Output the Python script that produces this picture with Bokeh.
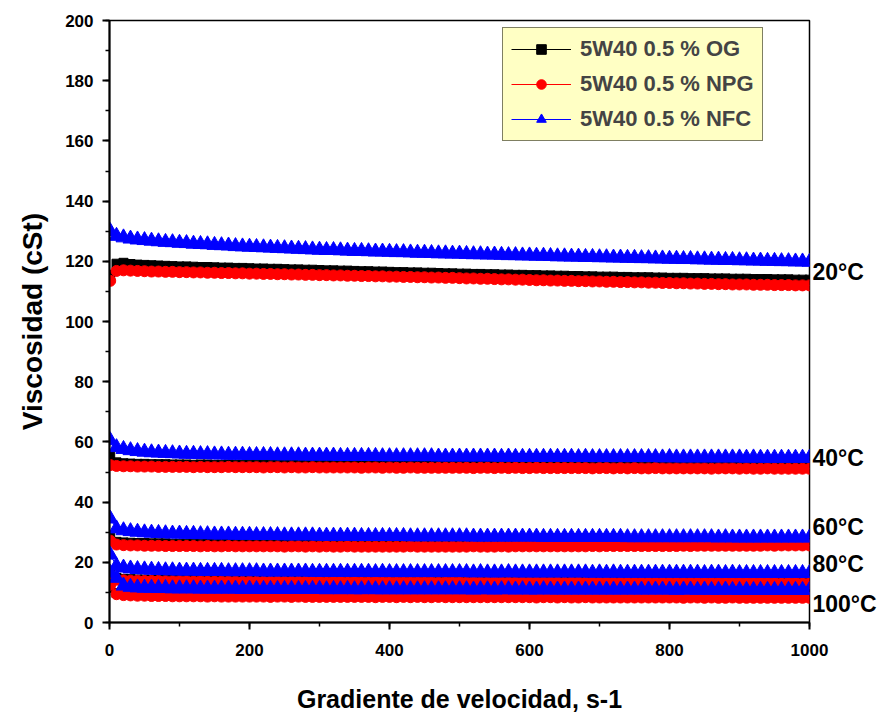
from bokeh.plotting import figure
from bokeh.models import (SingleIntervalTicker, FixedTicker, LinearAxis, Legend,
                          LegendItem, Range1d)
from bokeh.embed import file_html
from bokeh.resources import INLINE

# ---------------- data ----------------
shear_rate = [1, 10, 20, 30, 40, 50, 60, 70, 80, 90,
              100, 110, 120, 130, 140, 150, 160, 170, 180, 190,
              200, 210, 220, 230, 240, 250, 260, 270, 280, 290,
              300, 310, 320, 330, 340, 350, 360, 370, 380, 390,
              400, 410, 420, 430, 440, 450, 460, 470, 480, 490,
              500, 510, 520, 530, 540, 550, 560, 570, 580, 590,
              600, 610, 620, 630, 640, 650, 660, 670, 680, 690,
              700, 710, 720, 730, 740, 750, 760, 770, 780, 790,
              800, 810, 820, 830, 840, 850, 860, 870, 880, 890,
              900, 910, 920, 930, 940, 950, 960, 970, 980, 990, 1000]

series_names = ["5W40 0.5 % OG", "5W40 0.5 % NPG", "5W40 0.5 % NFC"]
temp_labels = ["20\u00b0C", "40\u00b0C", "60\u00b0C", "80\u00b0C", "100\u00b0C"]
temp_label_y = [116.3, 54.5, 31.6, 19.3, 6.3]

og_20 = [115.5, 119.2, 119.5, 119.1, 118.9, 118.8, 118.7, 118.6, 118.5, 118.4,
         118.3, 118.3, 118.2, 118.1, 118.1, 118.0, 117.9, 117.9, 117.8, 117.8,
         117.7, 117.6, 117.6, 117.5, 117.5, 117.4, 117.3, 117.3, 117.2, 117.2,
         117.1, 117.0, 117.0, 116.9, 116.9, 116.8, 116.7, 116.7, 116.6, 116.6,
         116.5, 116.4, 116.4, 116.3, 116.3, 116.2, 116.2, 116.1, 116.0, 116.0,
         115.9, 115.9, 115.8, 115.8, 115.7, 115.7, 115.6, 115.6, 115.5, 115.5,
         115.4, 115.4, 115.3, 115.3, 115.2, 115.2, 115.1, 115.1, 115.0, 115.0,
         114.9, 114.9, 114.9, 114.8, 114.8, 114.7, 114.7, 114.7, 114.6, 114.6,
         114.5, 114.5, 114.5, 114.4, 114.4, 114.4, 114.3, 114.3, 114.3, 114.2,
         114.2, 114.2, 114.1, 114.1, 114.1, 114.0, 114.0, 114.0, 113.9, 113.9, 113.9]
npg_20 = [113.5, 116.8, 117.0, 116.9, 116.8, 116.7, 116.6, 116.6, 116.5, 116.5,
          116.4, 116.4, 116.3, 116.3, 116.2, 116.2, 116.1, 116.1, 116.0, 116.0,
          115.9, 115.9, 115.8, 115.8, 115.7, 115.7, 115.6, 115.6, 115.5, 115.5,
          115.4, 115.4, 115.3, 115.3, 115.2, 115.2, 115.1, 115.1, 115.0, 115.0,
          114.9, 114.9, 114.8, 114.8, 114.7, 114.7, 114.6, 114.6, 114.5, 114.5,
          114.4, 114.3, 114.3, 114.2, 114.2, 114.1, 114.0, 114.0, 113.9, 113.9,
          113.8, 113.7, 113.7, 113.6, 113.6, 113.5, 113.5, 113.4, 113.4, 113.3,
          113.3, 113.2, 113.2, 113.1, 113.1, 113.0, 113.0, 112.9, 112.9, 112.8,
          112.8, 112.7, 112.7, 112.6, 112.6, 112.5, 112.5, 112.4, 112.4, 112.3,
          112.3, 112.3, 112.2, 112.2, 112.2, 112.1, 112.1, 112.1, 112.0, 112.0, 112.0]
nfc_20 = [130.0, 128.4, 127.9, 127.5, 127.2, 127.0, 126.8, 126.6, 126.4, 126.3,
          126.1, 126.0, 125.8, 125.7, 125.6, 125.4, 125.3, 125.2, 125.0, 124.9,
          124.8, 124.7, 124.6, 124.5, 124.4, 124.3, 124.2, 124.1, 124.0, 123.9,
          123.8, 123.7, 123.7, 123.6, 123.5, 123.4, 123.4, 123.3, 123.2, 123.2,
          123.1, 123.0, 123.0, 122.9, 122.8, 122.8, 122.7, 122.6, 122.6, 122.5,
          122.5, 122.4, 122.3, 122.3, 122.2, 122.2, 122.1, 122.0, 122.0, 121.9,
          121.9, 121.8, 121.8, 121.7, 121.6, 121.6, 121.5, 121.5, 121.4, 121.4,
          121.3, 121.3, 121.2, 121.2, 121.1, 121.1, 121.0, 121.0, 120.9, 120.9,
          120.8, 120.8, 120.7, 120.7, 120.6, 120.6, 120.5, 120.5, 120.4, 120.4,
          120.3, 120.3, 120.2, 120.2, 120.1, 120.1, 120.0, 120.0, 119.9, 119.9, 119.8]

og_40 = [55.5, 53.2, 52.9, 52.8, 52.7, 52.7, 52.6, 52.6, 52.6, 52.5,
         52.5, 52.5, 52.4, 52.5, 52.5, 52.4, 52.4, 52.5, 52.4, 52.4,
         52.4, 52.4, 52.3, 52.4, 52.4, 52.3, 52.4, 52.3, 52.3, 52.4,
         52.3, 52.3, 52.3, 52.3, 52.2, 52.3, 52.3, 52.2, 52.3, 52.2,
         52.2, 52.3, 52.2, 52.2, 52.2, 52.2, 52.2, 52.1, 52.2, 52.2,
         52.2, 52.1, 52.2, 52.1, 52.1, 52.2, 52.1, 52.1, 52.1, 52.1,
         52.1, 52.1, 52.1, 52.0, 52.1, 52.1, 52.0, 52.1, 52.0, 52.0,
         52.0, 52.1, 52.0, 52.0, 52.0, 52.0, 52.0, 51.9, 52.0, 52.0,
         52.0, 51.9, 52.0, 51.9, 51.9, 52.0, 51.9, 51.9, 51.9, 51.9,
         51.9, 51.9, 51.8, 51.9, 51.9, 51.8, 51.9, 51.8, 51.8, 51.8, 51.8]
npg_40 = [52.3, 52.0, 51.9, 51.9, 51.8, 51.8, 51.8, 51.7, 51.7, 51.7,
          51.7, 51.7, 51.6, 51.7, 51.6, 51.6, 51.6, 51.7, 51.6, 51.6,
          51.6, 51.6, 51.5, 51.6, 51.6, 51.5, 51.6, 51.5, 51.5, 51.6,
          51.5, 51.5, 51.5, 51.5, 51.5, 51.5, 51.4, 51.5, 51.5, 51.4,
          51.5, 51.4, 51.4, 51.5, 51.4, 51.4, 51.4, 51.4, 51.4, 51.4,
          51.4, 51.4, 51.3, 51.4, 51.4, 51.3, 51.4, 51.3, 51.4, 51.3,
          51.3, 51.4, 51.3, 51.3, 51.3, 51.3, 51.3, 51.3, 51.3, 51.2,
          51.3, 51.3, 51.2, 51.3, 51.2, 51.3, 51.2, 51.2, 51.3, 51.2,
          51.2, 51.2, 51.2, 51.2, 51.2, 51.2, 51.1, 51.2, 51.2, 51.2,
          51.1, 51.2, 51.1, 51.1, 51.2, 51.1, 51.1, 51.1, 51.1, 51.1, 51.1]
nfc_40 = [60.5, 58.2, 57.6, 57.2, 56.9, 56.7, 56.5, 56.4, 56.3, 56.2,
          56.1, 56.0, 56.0, 55.9, 55.9, 55.8, 55.8, 55.7, 55.7, 55.7,
          55.6, 55.6, 55.6, 55.6, 55.5, 55.5, 55.5, 55.5, 55.4, 55.4,
          55.4, 55.4, 55.4, 55.3, 55.3, 55.3, 55.3, 55.3, 55.3, 55.2,
          55.2, 55.2, 55.2, 55.2, 55.2, 55.2, 55.2, 55.1, 55.1, 55.1,
          55.1, 55.1, 55.1, 55.1, 55.1, 55.1, 55.0, 55.1, 55.0, 55.0,
          55.0, 55.0, 55.0, 55.0, 55.0, 55.0, 55.0, 54.9, 55.0, 54.9,
          54.9, 54.9, 54.9, 54.9, 54.9, 54.9, 54.9, 54.9, 54.9, 54.8,
          54.9, 54.8, 54.8, 54.8, 54.8, 54.8, 54.8, 54.8, 54.8, 54.8,
          54.8, 54.7, 54.8, 54.7, 54.7, 54.7, 54.7, 54.7, 54.7, 54.7, 54.7]

og_60 = [28.5, 26.8, 26.6, 26.5, 26.4, 26.4, 26.3, 26.3, 26.3, 26.2,
         26.2, 26.2, 26.2, 26.2, 26.1, 26.2, 26.1, 26.1, 26.1, 26.1,
         26.1, 26.1, 26.1, 26.0, 26.1, 26.1, 26.0, 26.1, 26.0, 26.0,
         26.0, 26.0, 26.1, 26.0, 26.0, 26.0, 26.0, 26.0, 26.0, 26.0,
         26.0, 25.9, 26.0, 26.0, 25.9, 26.0, 26.0, 26.0, 25.9, 26.0,
         26.0, 25.9, 26.0, 26.0, 26.0, 26.0, 25.9, 26.0, 26.0, 26.0,
         26.0, 26.0, 26.0, 26.1, 26.0, 26.0, 26.0, 26.1, 26.0, 26.1,
         26.1, 26.0, 26.1, 26.1, 26.1, 26.1, 26.1, 26.1, 26.1, 26.2,
         26.1, 26.2, 26.2, 26.2, 26.2, 26.2, 26.2, 26.2, 26.3, 26.2,
         26.3, 26.3, 26.3, 26.3, 26.3, 26.3, 26.3, 26.4, 26.3, 26.4, 26.4]
npg_60 = [27.2, 25.9, 25.7, 25.6, 25.6, 25.5, 25.5, 25.5, 25.4, 25.4,
          25.4, 25.4, 25.4, 25.3, 25.4, 25.3, 25.3, 25.4, 25.3, 25.3,
          25.3, 25.3, 25.3, 25.3, 25.3, 25.2, 25.3, 25.3, 25.2, 25.3,
          25.2, 25.3, 25.2, 25.2, 25.3, 25.2, 25.2, 25.2, 25.2, 25.2,
          25.2, 25.2, 25.2, 25.3, 25.2, 25.2, 25.2, 25.2, 25.2, 25.2,
          25.2, 25.2, 25.3, 25.2, 25.2, 25.2, 25.3, 25.2, 25.3, 25.3,
          25.3, 25.3, 25.3, 25.3, 25.3, 25.3, 25.3, 25.3, 25.3, 25.4,
          25.3, 25.4, 25.4, 25.4, 25.4, 25.4, 25.4, 25.4, 25.4, 25.4,
          25.4, 25.4, 25.5, 25.4, 25.5, 25.5, 25.5, 25.5, 25.5, 25.5,
          25.5, 25.5, 25.5, 25.5, 25.6, 25.5, 25.6, 25.6, 25.6, 25.6, 25.6]
nfc_60 = [34.5, 31.2, 30.6, 30.3, 30.1, 29.9, 29.8, 29.7, 29.6, 29.5,
          29.5, 29.4, 29.4, 29.3, 29.3, 29.2, 29.2, 29.2, 29.1, 29.1,
          29.1, 29.0, 29.0, 29.0, 29.0, 28.9, 28.9, 28.9, 28.9, 28.9,
          28.8, 28.8, 28.8, 28.8, 28.8, 28.8, 28.7, 28.7, 28.7, 28.7,
          28.7, 28.7, 28.7, 28.6, 28.6, 28.6, 28.6, 28.6, 28.6, 28.6,
          28.6, 28.6, 28.5, 28.5, 28.5, 28.5, 28.5, 28.5, 28.5, 28.5,
          28.5, 28.5, 28.4, 28.4, 28.4, 28.4, 28.4, 28.4, 28.4, 28.4,
          28.4, 28.4, 28.4, 28.4, 28.3, 28.3, 28.3, 28.3, 28.3, 28.3,
          28.3, 28.3, 28.3, 28.3, 28.3, 28.3, 28.3, 28.2, 28.3, 28.2,
          28.2, 28.2, 28.2, 28.2, 28.2, 28.2, 28.2, 28.2, 28.2, 28.2, 28.2]

og_80 = [17.0, 14.8, 14.5, 14.4, 14.3, 14.3, 14.2, 14.2, 14.2, 14.1,
         14.1, 14.1, 14.1, 14.0, 14.1, 14.0, 14.0, 14.0, 14.0, 14.0,
         14.0, 13.9, 14.0, 13.9, 13.9, 14.0, 13.9, 13.9, 13.9, 13.9,
         13.9, 13.9, 13.9, 13.8, 13.9, 13.9, 13.8, 13.9, 13.8, 13.9,
         13.8, 13.8, 13.9, 13.8, 13.8, 13.8, 13.8, 13.8, 13.8, 13.8,
         13.8, 13.8, 13.8, 13.7, 13.8, 13.8, 13.7, 13.8, 13.7, 13.8,
         13.7, 13.7, 13.8, 13.7, 13.7, 13.7, 13.7, 13.7, 13.7, 13.7,
         13.7, 13.7, 13.7, 13.6, 13.7, 13.7, 13.6, 13.7, 13.6, 13.7,
         13.6, 13.6, 13.7, 13.6, 13.6, 13.6, 13.6, 13.6, 13.6, 13.6,
         13.6, 13.6, 13.6, 13.5, 13.6, 13.6, 13.5, 13.6, 13.5, 13.5, 13.5]
npg_80 = [15.8, 14.2, 14.0, 13.9, 13.9, 13.8, 13.8, 13.8, 13.7, 13.7,
          13.7, 13.7, 13.6, 13.7, 13.6, 13.6, 13.6, 13.6, 13.6, 13.5,
          13.6, 13.5, 13.5, 13.5, 13.6, 13.5, 13.5, 13.5, 13.5, 13.5,
          13.5, 13.4, 13.5, 13.5, 13.4, 13.5, 13.4, 13.4, 13.5, 13.4,
          13.4, 13.4, 13.4, 13.4, 13.4, 13.4, 13.4, 13.3, 13.4, 13.4,
          13.4, 13.3, 13.4, 13.3, 13.3, 13.4, 13.3, 13.3, 13.3, 13.3,
          13.3, 13.3, 13.3, 13.3, 13.3, 13.2, 13.3, 13.3, 13.2, 13.3,
          13.2, 13.3, 13.2, 13.2, 13.2, 13.2, 13.2, 13.2, 13.2, 13.2,
          13.2, 13.2, 13.1, 13.2, 13.2, 13.1, 13.2, 13.1, 13.1, 13.1,
          13.1, 13.1, 13.1, 13.1, 13.1, 13.1, 13.0, 13.1, 13.1, 13.0, 13.0]
nfc_80 = [22.5, 18.8, 18.2, 17.9, 17.7, 17.6, 17.5, 17.4, 17.3, 17.3,
          17.2, 17.2, 17.2, 17.1, 17.1, 17.1, 17.1, 17.0, 17.0, 17.0,
          17.0, 17.0, 16.9, 16.9, 16.9, 16.9, 16.9, 16.9, 16.9, 16.8,
          16.8, 16.8, 16.8, 16.8, 16.8, 16.8, 16.8, 16.8, 16.7, 16.8,
          16.7, 16.7, 16.7, 16.7, 16.7, 16.7, 16.7, 16.7, 16.7, 16.7,
          16.7, 16.7, 16.6, 16.7, 16.6, 16.6, 16.6, 16.7, 16.6, 16.6,
          16.6, 16.6, 16.6, 16.6, 16.6, 16.6, 16.6, 16.6, 16.6, 16.5,
          16.6, 16.5, 16.6, 16.5, 16.5, 16.5, 16.5, 16.5, 16.5, 16.5,
          16.5, 16.5, 16.5, 16.5, 16.5, 16.4, 16.5, 16.5, 16.4, 16.5,
          16.4, 16.4, 16.4, 16.4, 16.4, 16.4, 16.4, 16.4, 16.4, 16.4, 16.4]

og_100 = [11.5, 9.8, 9.6, 9.5, 9.4, 9.4, 9.3, 9.3, 9.3, 9.2,
          9.2, 9.2, 9.2, 9.2, 9.1, 9.2, 9.1, 9.1, 9.1, 9.1,
          9.1, 9.1, 9.1, 9.0, 9.1, 9.1, 9.0, 9.1, 9.0, 9.0,
          9.0, 9.0, 9.0, 9.0, 9.0, 9.0, 9.0, 9.0, 8.9, 9.0,
          9.0, 8.9, 9.0, 8.9, 9.0, 8.9, 8.9, 9.0, 8.9, 8.9,
          8.9, 8.9, 8.9, 8.9, 8.9, 8.9, 8.9, 8.9, 8.9, 8.9,
          8.9, 8.8, 8.9, 8.9, 8.8, 8.9, 8.8, 8.8, 8.9, 8.8,
          8.8, 8.8, 8.8, 8.8, 8.8, 8.8, 8.8, 8.8, 8.8, 8.8,
          8.8, 8.8, 8.7, 8.8, 8.8, 8.7, 8.8, 8.7, 8.7, 8.8,
          8.7, 8.7, 8.7, 8.7, 8.7, 8.7, 8.7, 8.7, 8.7, 8.7, 8.7]
npg_100 = [12.5, 9.4, 9.1, 9.0, 8.9, 8.9, 8.8, 8.8, 8.8, 8.7,
           8.7, 8.7, 8.7, 8.7, 8.6, 8.7, 8.6, 8.6, 8.6, 8.6,
           8.6, 8.6, 8.6, 8.5, 8.6, 8.6, 8.5, 8.6, 8.5, 8.5,
           8.5, 8.5, 8.5, 8.5, 8.5, 8.5, 8.5, 8.5, 8.4, 8.5,
           8.5, 8.4, 8.5, 8.4, 8.5, 8.4, 8.4, 8.5, 8.4, 8.4,
           8.4, 8.4, 8.4, 8.4, 8.4, 8.4, 8.4, 8.4, 8.4, 8.4,
           8.4, 8.3, 8.4, 8.4, 8.3, 8.4, 8.3, 8.3, 8.4, 8.3,
           8.3, 8.3, 8.3, 8.3, 8.3, 8.3, 8.3, 8.3, 8.3, 8.3,
           8.3, 8.3, 8.2, 8.3, 8.3, 8.2, 8.3, 8.2, 8.2, 8.3,
           8.2, 8.2, 8.2, 8.2, 8.2, 8.2, 8.2, 8.2, 8.2, 8.2, 8.2]
nfc_100 = [16.5, 14.8, 12.2, 11.8, 11.6, 11.5, 11.5, 11.4, 11.4, 11.3,
           11.3, 11.3, 11.3, 11.2, 11.2, 11.2, 11.2, 11.2, 11.2, 11.1,
           11.2, 11.1, 11.1, 11.1, 11.1, 11.1, 11.1, 11.1, 11.1, 11.1,
           11.1, 11.0, 11.1, 11.0, 11.1, 11.0, 11.0, 11.1, 11.0, 11.0,
           11.0, 11.0, 11.0, 11.0, 11.0, 11.0, 11.0, 11.0, 11.0, 11.0,
           11.0, 11.0, 10.9, 11.0, 11.0, 10.9, 11.0, 11.0, 10.9, 11.0,
           10.9, 10.9, 11.0, 10.9, 10.9, 10.9, 10.9, 10.9, 10.9, 10.9,
           10.9, 10.9, 10.9, 10.9, 10.9, 10.9, 10.9, 10.9, 10.9, 10.9,
           10.9, 10.8, 10.9, 10.9, 10.8, 10.9, 10.8, 10.8, 10.9, 10.8,
           10.8, 10.8, 10.8, 10.8, 10.8, 10.8, 10.8, 10.8, 10.8, 10.8, 10.8]

og_all = [og_20, og_40, og_60, og_80, og_100]
npg_all = [npg_20, npg_40, npg_60, npg_80, npg_100]
nfc_all = [nfc_20, nfc_40, nfc_60, nfc_80, nfc_100]

# ---------------- figure ----------------
FONT = "Liberation Sans"

p = figure(output_backend="svg", toolbar_location=None,
           frame_width=700, frame_height=602,
           min_border_left=109, min_border_right=66,
           min_border_top=20, min_border_bottom=95,
           x_range=Range1d(0, 1000), y_range=Range1d(0, 200))
p.grid.visible = False
p.outline_line_color = "black"
p.outline_line_width = 1.5
p.background_fill_color = "white"
p.border_fill_color = "white"

p.xaxis.ticker = SingleIntervalTicker(interval=200, num_minor_ticks=2)
p.yaxis.ticker = SingleIntervalTicker(interval=20, num_minor_ticks=2)
for ax in (p.xaxis, p.yaxis):
    ax.axis_line_width = 2
    ax.axis_line_color = "black"
    ax.major_tick_line_width = 2
    ax.minor_tick_line_width = 1.5
    ax.major_tick_out = 7
    ax.major_tick_in = 0
    ax.minor_tick_out = 4
    ax.minor_tick_in = 0
    ax.major_label_text_font = FONT
    ax.major_label_text_font_style = "bold"
    ax.major_label_text_color = "black"
    ax.axis_label_text_font = FONT
    ax.axis_label_text_font_style = "bold"
    ax.axis_label_text_color = "black"

p.xaxis.major_label_text_font_size = "17px"
p.xaxis.major_label_standoff = 14
p.xaxis.axis_label = "Gradiente de velocidad, s-1"
p.xaxis.axis_label_text_font_size = "25px"
p.xaxis.axis_label_standoff = 26

p.yaxis.major_label_text_font_size = "17px"
p.yaxis.major_label_standoff = 9
p.yaxis.axis_label = "Viscosidad (cSt)"
p.yaxis.axis_label_text_font_size = "28px"
p.yaxis.axis_label_standoff = 14

# temperature labels drawn as a right-hand axis (outside the frame)
temp_axis = LinearAxis(ticker=FixedTicker(ticks=temp_label_y),
                       major_label_overrides=dict(zip(temp_label_y, temp_labels)))
temp_axis.axis_line_alpha = 0
temp_axis.major_tick_line_alpha = 0
temp_axis.minor_tick_line_alpha = 0
temp_axis.major_tick_out = 0
temp_axis.major_tick_in = 0
temp_axis.major_label_standoff = 3
temp_axis.major_label_text_font = FONT
temp_axis.major_label_text_font_style = "bold"
temp_axis.major_label_text_font_size = "23px"
temp_axis.major_label_text_color = "black"
p.add_layout(temp_axis, "right")

styles = [("black", "square", 9), ("red", "circle", 11), ("blue", "triangle", 15)]
legend_items = []
for name, group, (col, mk, sz) in zip(series_names, [og_all, npg_all, nfc_all], styles):
    first = None
    for ys in group:
        lr = p.line(shear_rate, ys, line_color=col, line_width=1)
        sr = p.scatter(shear_rate, ys, marker=mk, size=sz, fill_color=col, line_color=col)
        if first is None:
            first = [lr, sr]
    legend_items.append(LegendItem(label=name, renderers=first))

legend = Legend(items=legend_items, location=(393, 481))
legend.background_fill_color = "#FFFFC4"
legend.background_fill_alpha = 1
legend.border_line_color = "black"
legend.border_line_width = 1.5
legend.label_text_font = FONT
legend.label_text_font_style = "bold"
legend.label_text_font_size = "22px"
legend.label_height = 24
legend.glyph_height = 24
legend.glyph_width = 60
legend.label_standoff = 9
legend.spacing = 9
legend.padding = 8
legend.margin = 0
p.add_layout(legend, "center")

open("out.html", "w").write(file_html(p, INLINE))
